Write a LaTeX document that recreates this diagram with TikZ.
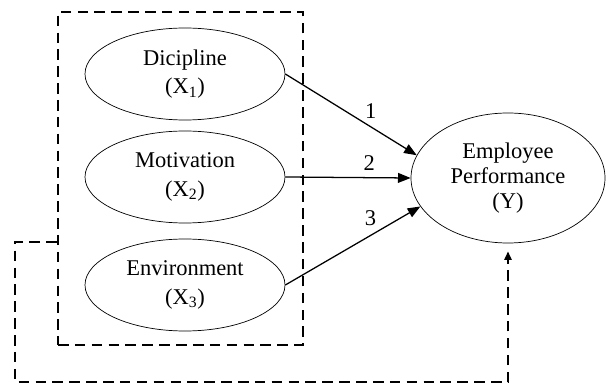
\documentclass[tikz,border=0pt]{standalone}
\usepackage{fontspec}
\setmainfont{Liberation Serif}
\usetikzlibrary{arrows.meta,shapes.geometric}
\tikzset{
  var/.style={draw, ellipse, line width=0.5pt, minimum width=5cm, minimum height=2.3cm, align=center, font=\fontsize{16}{20}\selectfont},
  rel/.style={-{Triangle[length=9pt,width=7pt]}, line width=0.9pt},
  marco/.style={draw, line width=1.6pt, dash pattern=on 7.5pt off 4.5pt}
}
\begin{document}
\begin{tikzpicture}[scale=1]
    \useasboundingbox (0,0) rectangle (15.15,-9.65);

    % Grupo de variables independientes
    \node[marco, minimum width=6.125cm, minimum height=8.325cm] (grp) at (4.5125,-4.4625) {};

    % Variables
    \node[var] (dic) at (4.625,-1.85) {Dicipline\\(X\textsubscript{1})};
    \node[var] (mot) at (4.625,-4.425) {Motivation\\(X\textsubscript{2})};
    \node[var] (env) at (4.625,-7.125) {Environment\\(X\textsubscript{3})};
    \node[var, minimum width=4.85cm, minimum height=3.25cm, font=\fontsize{16}{18}\selectfont] (kin) at (12.7,-4.45) {Employee\\Performance\\(Y)};

    % Relaciones
    \draw[rel] (dic.east) -- (kin.166) node[pos=0.65, above=2pt, font=\fontsize{16}{18}\selectfont] {1};
    \draw[rel] (mot.east) -- (kin.west) node[pos=0.67, above=1pt, font=\fontsize{16}{18}\selectfont] {2};
    \draw[rel] (env.east) -- (kin.198) node[pos=0.63, above=3pt, font=\fontsize{16}{18}\selectfont] {3};

    % Efecto simultaneo
    \coordinate (esq) at (0.375,-9.55);
    \draw[marco, -{Triangle[length=6pt,width=5pt]}, shorten >=0.2cm] ([yshift=-1.5875cm]grp.west) -| (esq) -| (kin.south);
\end{tikzpicture}
\end{document}
